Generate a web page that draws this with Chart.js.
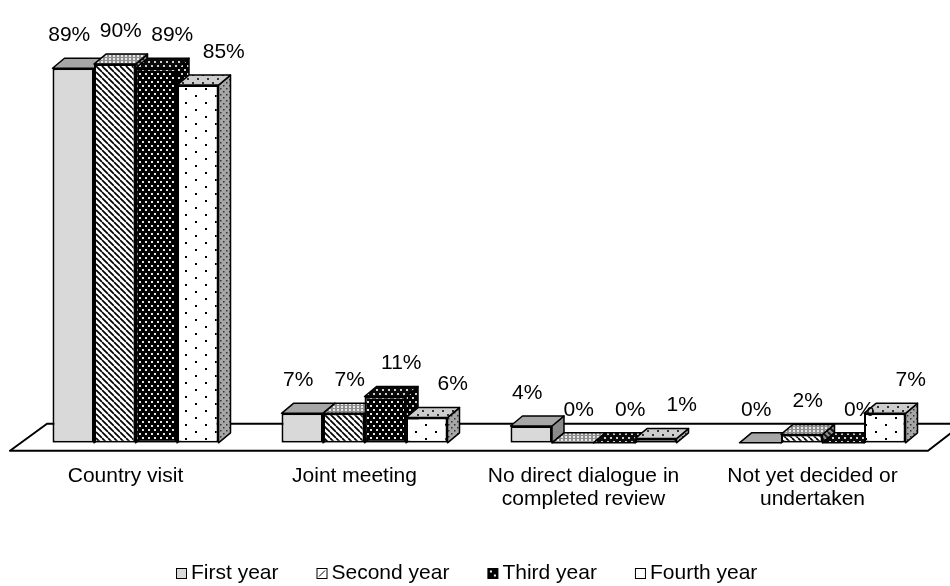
<!DOCTYPE html>
<html>
<head>
<meta charset="utf-8">
<script src="https://cdn.jsdelivr.net/npm/chart.js@4.4.1/dist/chart.umd.min.js"></script>
<style>
  html, body { margin: 0; padding: 0; background: #fff; }
  #wrap { width: 950px; height: 586px; position: relative; }
</style>
</head>
<body>
<div id="wrap"><canvas id="chart"></canvas></div>
<script>
// Categories (multi-line tick labels) and yearly shares, in percent
const categories = [
  ['Country visit'],
  ['Joint meeting'],
  ['No direct dialogue in', 'completed review'],
  ['Not yet decided or', 'undertaken']
];
const seriesNames = ['First year', 'Second year', 'Third year', 'Fourth year'];
const firstYear  = [89, 7, 4, 0];
const secondYear = [90, 7, 0, 2];
const thirdYear  = [89, 11, 0, 0];
const fourthYear = [85, 6, 1, 7];

const FONT = '"Liberation Sans", Arial, Helvetica, sans-serif';
const DX = 12, DY = 10;   // depth offset of the extruded boxes

// ---- fill patterns -------------------------------------------------------
const patternCtx = document.createElement('canvas').getContext('2d');
function tile(w, h, paint) {
  const cv = document.createElement('canvas');
  cv.width = w; cv.height = h;
  paint(cv.getContext('2d'), w, h);
  return patternCtx.createPattern(cv, 'repeat');
}
function stripes(bg, fg, size, lw) {
  return tile(size, size, (g, w, h) => {
    g.fillStyle = bg; g.fillRect(0, 0, w, h);
    g.strokeStyle = fg; g.lineWidth = lw;
    for (const k of [-size, 0, size]) {
      g.beginPath(); g.moveTo(k, 0); g.lineTo(k + size, size); g.stroke();
    }
  });
}
function dots(w, h, bg, fg, pts, s) {
  return tile(w, h, (g) => {
    g.fillStyle = bg; g.fillRect(0, 0, w, h);
    g.fillStyle = fg;
    pts.forEach(p => g.fillRect(p[0], p[1], s, s));
  });
}

const frontFills = [
  '#d9d9d9',
  stripes('#ffffff', '#000000', 6, 1.7),
  dots(6, 8, '#000000', '#e4e4e4', [[1, 1], [4, 5]], 2),
  dots(20, 14, '#ffffff', '#000000', [[5, 4], [15, 11]], 2)
];
const topFills = [
  '#a6a6a6',
  dots(4, 3, '#8f8f8f', '#e8e8e8', [[1, 1]], 2),
  dots(6, 8, '#0a0a0a', '#cfcfcf', [[1, 1], [4, 5]], 2),
  dots(10, 8, '#cdcdcd', '#333333', [[2, 2], [7, 6]], 2)
];
const sideFills = [
  '#8a8a8a',
  stripes('#8f8f8f', '#1a1a1a', 6, 2),
  dots(6, 8, '#000000', '#cfcfcf', [[1, 1], [4, 5]], 2),
  dots(6, 6, '#a6a6a6', '#333333', [[1, 1], [4, 4]], 1.5)
];

function poly(ctx, pts, fill) {
  ctx.beginPath();
  ctx.moveTo(pts[0][0], pts[0][1]);
  for (let k = 1; k < pts.length; k++) ctx.lineTo(pts[k][0], pts[k][1]);
  ctx.closePath();
  ctx.fillStyle = fill;
  ctx.fill();
  ctx.stroke();
}

// Floor plane plus the top and right faces of every bar
const depthFaces = {
  id: 'depthFaces',
  beforeDatasetsDraw(chart) {
    const ctx = chart.ctx;
    const area = chart.chartArea;
    const base = chart.scales.y.getPixelForValue(0);
    ctx.save();
    ctx.lineJoin = 'round';
    ctx.strokeStyle = '#000';
    ctx.lineWidth = 2;
    poly(ctx, [
      [area.left - 11, base + 8],
      [area.right - 9, base + 8],
      [area.right + 26, base - 19],
      [area.left + 26, base - 19]
    ], '#ffffff');

    ctx.lineWidth = 1.5;
    const n = chart.data.labels.length;
    for (let j = 0; j < n; j++) {
      chart.data.datasets.forEach((ds, i) => {
        const bar = chart.getDatasetMeta(i).data[j];
        const l = bar.x - bar.width / 2, r = bar.x + bar.width / 2;
        const t = bar.y, b = bar.base;
        poly(ctx, [[r, t], [r + DX, t - DY], [r + DX, b - DY], [r, b]], sideFills[i]);
        poly(ctx, [[l, t], [l + DX, t - DY], [r + DX, t - DY], [r, t]], topFills[i]);
      });
    }
    ctx.restore();
  },
  afterDatasetsDraw(chart) {
    const ctx = chart.ctx;
    ctx.save();
    ctx.font = '21px ' + FONT;
    ctx.fillStyle = '#000';
    ctx.textAlign = 'center';
    ctx.textBaseline = 'middle';
    chart.data.datasets.forEach((ds, i) => {
      chart.getDatasetMeta(i).data.forEach((bar, j) => {
        ctx.fillText(ds.data[j] + '%', bar.x - 4 + 10 * i, bar.y - 33);
      });
    });
    ctx.restore();
  }
};

// Legend row with small pattern swatches
const legendRow = {
  id: 'legendRow',
  afterDraw(chart) {
    const ctx = chart.ctx;
    ctx.save();
    ctx.font = '21px ' + FONT;
    ctx.textBaseline = 'middle';
    ctx.textAlign = 'left';
    const box = 10, gapText = 5, gapItem = 38, cy = 573;
    const widths = seriesNames.map(s => ctx.measureText(s).width);
    const total = widths.reduce((a, w) => a + box + gapText + w, 0) + gapItem * (seriesNames.length - 1);
    let x = Math.round(chart.width / 2 - total / 2 - 8);
    seriesNames.forEach((name, i) => {
      const bx = x + 0.5, by = Math.round(cy - box / 2) + 0.5;
      ctx.lineWidth = 1;
      ctx.strokeStyle = '#000';
      ctx.fillStyle = i === 0 ? '#d9d9d9' : (i === 2 ? '#000' : '#fff');
      ctx.fillRect(bx, by, box, box);
      ctx.strokeRect(bx, by, box, box);
      if (i === 1) {
        ctx.beginPath(); ctx.moveTo(bx + 2, by + box - 2); ctx.lineTo(bx + box - 2, by + 2); ctx.stroke();
      } else if (i === 2) {
        ctx.fillStyle = '#fff';
        ctx.fillRect(bx + 2, by + 2, 2, 2);
        ctx.fillRect(bx + 6, by + 6, 2, 2);
      }
      ctx.fillStyle = '#000';
      ctx.fillText(name, x + box + gapText, cy);
      x += box + gapText + widths[i] + gapItem;
    });
    ctx.restore();
  }
};

Chart.defaults.font.family = FONT;
Chart.defaults.color = '#000';

const seriesValues = [firstYear, secondYear, thirdYear, fourthYear];

new Chart(document.getElementById('chart'), {
  type: 'bar',
  data: {
    labels: categories,
    datasets: seriesNames.map((name, i) => ({
      label: name,
      data: seriesValues[i],
      backgroundColor: frontFills[i],
      borderColor: '#000',
      borderWidth: 2,
      borderSkipped: false,
      categoryPercentage: 0.725,
      barPercentage: 1.0
    }))
  },
  options: {
    responsive: true,
    maintainAspectRatio: false,
    animation: false,
    events: [],
    layout: { padding: { left: 21, right: 13, top: 22, bottom: 53 } },
    plugins: {
      legend: { display: false },
      tooltip: { enabled: false },
      title: { display: false }
    },
    scales: {
      y: { display: false, min: 0, max: 100 },
      x: {
        grid: { display: false, drawTicks: false },
        border: { display: false },
        ticks: {
          font: { size: 21, lineHeight: 1.1 },
          color: '#000',
          padding: 22,
          labelOffset: -10,
          maxRotation: 0,
          autoSkip: false
        }
      }
    }
  },
  plugins: [depthFaces, legendRow]
});
</script>
</body>
</html>
